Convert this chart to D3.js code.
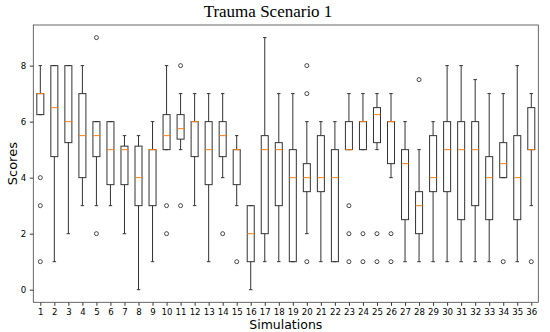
<!DOCTYPE html>
<html>
  <head>
    <meta charset="utf-8">
    <title>Trauma Scenario 1</title>
    <script src="https://d3js.org/d3.v7.min.js"></script>
    <style>
      body { margin: 0; background: #fff; }
      .tick text { font-family: "DejaVu Sans", sans-serif; font-size: 8.6px; fill: #000; }
      .tick line { stroke: #000; stroke-width: 0.8; }
      .domain { display: none; }
    </style>
  </head>
  <body>
    <svg id="svg" width="550" height="332"></svg>
    <script>
      // data: one entry per simulation
      var simulations = d3.range(1, 37);
      var whiskerLow  = [6.25, 1, 2, 3, 3, 3, 2, 0, 1, 5, 5, 3, 1, 4, 3, 0, 1, 1, 1, 2, 1, 1, 5, 5, 5, 4, 1, 1, 1, 1, 1, 1, 1, 4, 1, 3];
      var q1          = [6.25, 4.75, 5.25, 4, 4.75, 3.75, 3.75, 3, 3, 5, 5.375, 4.75, 3.75, 4.75, 3.75, 1, 2, 3, 1, 3.5, 3.5, 1, 5, 5, 5.25, 4.5, 2.5, 2, 3.5, 3.5, 2.5, 3, 2.5, 4, 2.5, 5];
      var medians     = [7, 6.5, 6, 5.5, 5.5, 5, 5, 4, 5, 5.5, 5.75, 6, 5, 5.5, 5, 2, 5, 5, 4, 4, 4, 4, 5, 6, 6.25, 6, 4.5, 3, 4, 5, 5, 5, 4, 4.5, 4, 5];
      var q3          = [7, 8, 8, 7, 6, 6, 5.125, 5.125, 5, 6.25, 6.25, 6, 6, 6, 5, 3, 5.5, 5.25, 5, 4.5, 5.5, 5, 6, 6, 6.5, 6, 5, 3.5, 5.5, 6, 6, 6, 4.75, 5.25, 5.5, 6.5];
      var whiskerHigh = [8, 8, 8, 8, 6, 6, 5.5, 5.5, 6, 8, 7, 7, 7, 7, 5.5, 3, 9, 7, 7, 6, 6, 6, 7, 7, 7, 7, 6, 5, 6, 8, 8, 7.5, 7, 7, 8, 7];
      var fliers = [[4, 3, 1], [], [], [], [9, 2], [], [], [], [], [3, 2], [8, 3], [], [], [2], [1], [], [], [], [], [8, 7, 1], [], [], [3, 2, 1], [2, 1], [2, 1], [2, 1], [], [7.5], [], [], [], [], [], [1], [], [1]];
      var yTicks = [0, 2, 4, 6, 8];

      var margin = {top: 25, right: 11.7, bottom: 29.7, left: 33.3};
      var width = 550 - margin.left - margin.right;
      var height = 332 - margin.top - margin.bottom;
      var svg = d3.select("#svg");
      var g = svg.append("g").attr("transform", "translate(" + margin.left + "," + margin.top + ")");

      var x = d3.scaleLinear().domain([0.5, 36.5]).range([0, width]);
      var y = d3.scaleLinear().domain([-0.45, 9.45]).range([height, 0]);
      var boxW = x(1.5) - x(1);
      var capW = boxW / 2;
      var lineColour = "#333";

      // axes
      g.append("g")
        .attr("transform", "translate(0," + height + ")")
        .call(d3.axisBottom(x).tickValues(simulations).tickFormat(d3.format("d")).tickSize(3.5).tickPadding(3));
      g.append("g")
        .call(d3.axisLeft(y).tickValues(yTicks).tickSize(3.5).tickPadding(3.5));

      // boxes
      var boxes = g.selectAll(".box")
          .data(simulations)
        .enter().append("g")
          .attr("class", "box");
      // whiskers
      boxes.append("line")
        .attr("x1", function(d) { return x(d); }).attr("x2", function(d) { return x(d); })
        .attr("y1", function(d, i) { return y(whiskerLow[i]); }).attr("y2", function(d, i) { return y(q1[i]); })
        .attr("stroke", lineColour);
      boxes.append("line")
        .attr("x1", function(d) { return x(d); }).attr("x2", function(d) { return x(d); })
        .attr("y1", function(d, i) { return y(whiskerHigh[i]); }).attr("y2", function(d, i) { return y(q3[i]); })
        .attr("stroke", lineColour);
      // caps
      [whiskerLow, whiskerHigh].forEach(function(arr) {
        boxes.append("line")
          .attr("x1", function(d) { return x(d) - capW / 2; }).attr("x2", function(d) { return x(d) + capW / 2; })
          .attr("y1", function(d, i) { return y(arr[i]); }).attr("y2", function(d, i) { return y(arr[i]); })
          .attr("stroke", lineColour);
      });
      boxes.append("rect")
        .attr("x", function(d) { return x(d) - boxW / 2; })
        .attr("width", boxW)
        .attr("y", function(d, i) { return y(q3[i]); })
        .attr("height", function(d, i) { return y(q1[i]) - y(q3[i]); })
        .attr("fill", "none")
        .attr("stroke", lineColour);
      boxes.append("line")
        .attr("x1", function(d) { return x(d) - boxW / 2; }).attr("x2", function(d) { return x(d) + boxW / 2; })
        .attr("y1", function(d, i) { return y(medians[i]); }).attr("y2", function(d, i) { return y(medians[i]); })
        .attr("stroke", "#ff7f0e");
      boxes.selectAll("circle")
          .data(function(d, i) { return fliers[i].map(function(v) { return {s: d, v: v}; }); })
        .enter().append("circle")
          .attr("cx", function(p) { return x(p.s); })
          .attr("cy", function(p) { return y(p.v); })
          .attr("r", 2)
          .attr("fill", "none")
          .attr("stroke", lineColour)
          .attr("stroke-width", 0.9);

      // frame
      g.append("rect")
        .attr("width", width).attr("height", height)
        .attr("fill", "none").attr("stroke", "#444").attr("stroke-width", 0.8);

      // labels
      svg.append("text")
        .attr("x", 268).attr("y", 17)
        .attr("text-anchor", "middle")
        .style("font-family", "'Liberation Serif', serif").style("font-size", "17px")
        .text("Trauma Scenario 1");
      svg.append("text")
        .attr("x", margin.left + width / 2).attr("y", 328.5)
        .attr("text-anchor", "middle")
        .style("font-family", "'DejaVu Sans', sans-serif").style("font-size", "12.5px")
        .text("Simulations");
      svg.append("text")
        .attr("transform", "translate(17," + (margin.top + height / 2) + ") rotate(-90)")
        .attr("text-anchor", "middle")
        .style("font-family", "'DejaVu Sans', sans-serif").style("font-size", "13px")
        .text("Scores");
    </script>
  </body>
</html>
